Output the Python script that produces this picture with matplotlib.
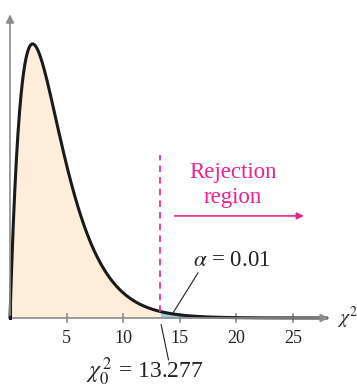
import numpy as np
import matplotlib.pyplot as plt
from matplotlib.patches import FancyArrowPatch

# chi-square distribution, d.f. = 4
df = 4
crit = 13.277
alpha = 0.01
tick_vals = [5, 10, 15, 20, 25]

x = np.linspace(0, 28, 800)
x[0] = 1e-6
y = x ** (df / 2 - 1) * np.exp(-x / 2) / (2 ** (df / 2) * 1.0)  # gamma(2) = 1

plt.rcParams['font.family'] = ['Liberation Serif', 'DejaVu Serif']
plt.rcParams['mathtext.fontset'] = 'stix'

fig = plt.figure(figsize=(3.57, 3.91), dpi=100)
ax = fig.add_axes([0, 0, 1, 1])
ax.set_xlim(-0.883, 30.65)
ax.set_ylim(-0.049, 0.2134)
ax.axis('off')

gray = '#8c8c8c'
magenta = '#e8238f'
dark = '#222222'

# shaded areas
ax.fill_between(x, 0, y, where=x <= crit, color='#fdeedc', lw=0)
ax.fill_between(x, 0, y, where=x >= crit, color='#9ccbe8', lw=0)

# axes with arrows
ax.annotate('', xy=(28.4, 0), xytext=(0, 0),
            arrowprops=dict(arrowstyle='-|>', color=gray, lw=1.2, mutation_scale=12))
ax.annotate('', xy=(0, 0.2056), xytext=(0, 0),
            arrowprops=dict(arrowstyle='-|>', color=gray, lw=1.2, mutation_scale=12))
for t in tick_vals:
    ax.plot([t, t], [-0.0028, 0.0028], color=gray, lw=1.2)
    ax.text(t, -0.0135, str(t), ha='center', va='center', fontsize=13, color=dark)

# curve
ax.plot(x, y, color='#1a1a1a', lw=2.2, solid_capstyle='round')
ax.plot([0, 0], [0, y[1]], color='#1a1a1a', lw=2.2)

# critical value line
y_crit = crit * np.exp(-crit / 2) / 4
ax.plot([crit, crit], [y_crit, 0.1094], color=magenta, lw=1.2, ls=(0, (4, 3)))

ax.text(19.7, 0.0975, 'Rejection', ha='center', va='center', fontsize=16.5, color=magenta)
ax.text(19.7, 0.0808, 'region', ha='center', va='center', fontsize=16.5, color=magenta)
arr = FancyArrowPatch((14.3, 0.0685), (26.2, 0.0685),
                      arrowstyle='-|>', color=magenta, lw=1.2, mutation_scale=10)
ax.add_patch(arr)

# alpha label
ax.text(19.6, 0.0385, r'$\alpha$ = 0.01', ha='center', va='center', fontsize=16.5, color=dark)
ax.plot([16.6, 14.4], [0.0302, 0.0034], color=dark, lw=0.8)

# critical value label
ax.plot([13.35, 14.0], [-0.0045, -0.0281], color=dark, lw=0.8)
ax.text(11.9, -0.0362, r'$\chi_0^{\,2}$ = 13.277', ha='center', va='center',
        fontsize=17, color=dark)

ax.text(28.9, 0.0, r'$\chi^2$', ha='left', va='center', fontsize=14, color=dark)

fig.savefig('out.png', dpi=100)
